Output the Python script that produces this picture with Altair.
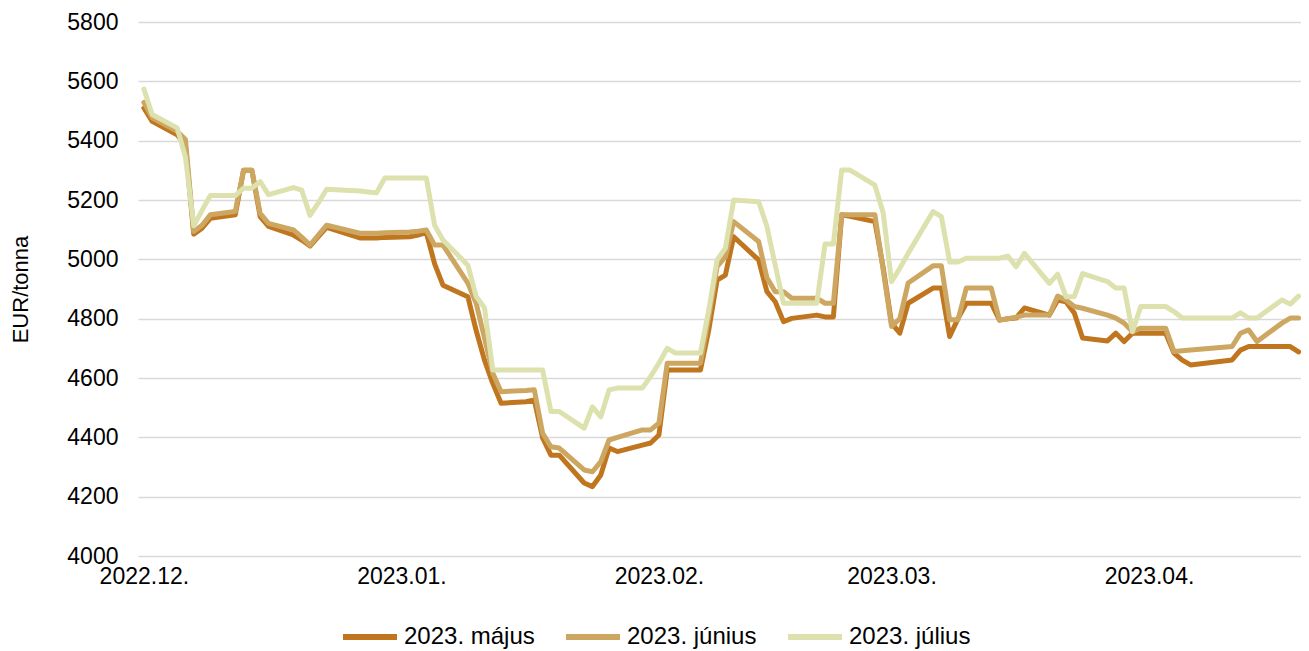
import altair as alt
import pandas as pd

dates = [
    "2022-12-01", "2022-12-02", "2022-12-05", "2022-12-06", "2022-12-07", "2022-12-08", "2022-12-09",
    "2022-12-12", "2022-12-13", "2022-12-14", "2022-12-15", "2022-12-16", "2022-12-19", "2022-12-20",
    "2022-12-21", "2022-12-22", "2022-12-23", "2022-12-27", "2022-12-28", "2022-12-29", "2022-12-30",
    "2023-01-02", "2023-01-03", "2023-01-04", "2023-01-05", "2023-01-06", "2023-01-09", "2023-01-10",
    "2023-01-11", "2023-01-12", "2023-01-13", "2023-01-16", "2023-01-17", "2023-01-18", "2023-01-19",
    "2023-01-20", "2023-01-23", "2023-01-24", "2023-01-25", "2023-01-26", "2023-01-27", "2023-01-30",
    "2023-01-31",
    "2023-02-01", "2023-02-02", "2023-02-03", "2023-02-06", "2023-02-07", "2023-02-08", "2023-02-09",
    "2023-02-10", "2023-02-13", "2023-02-14", "2023-02-15", "2023-02-16", "2023-02-17", "2023-02-20",
    "2023-02-21", "2023-02-22", "2023-02-23", "2023-02-24", "2023-02-27", "2023-02-28",
    "2023-03-01", "2023-03-02", "2023-03-03", "2023-03-06", "2023-03-07", "2023-03-08", "2023-03-09",
    "2023-03-10", "2023-03-13", "2023-03-14", "2023-03-15", "2023-03-16", "2023-03-17", "2023-03-20",
    "2023-03-21", "2023-03-22", "2023-03-23", "2023-03-24", "2023-03-27", "2023-03-28", "2023-03-29",
    "2023-03-30", "2023-03-31",
    "2023-04-03", "2023-04-04", "2023-04-05", "2023-04-06", "2023-04-11", "2023-04-12", "2023-04-13",
    "2023-04-14", "2023-04-17", "2023-04-18", "2023-04-19",
]

majus = [
    5510, 5465, 5420, 5385, 5085, 5105, 5138,
    5150, 5300, 5300, 5144, 5111, 5082, 5065,
    5045, 5077, 5108, 5072, 5072, 5072, 5074,
    5076, 5082, 5090, 4985, 4913, 4874, 4760,
    4660, 4582, 4515, 4520, 4526, 4398, 4340,
    4340, 4246, 4234, 4273, 4364, 4352, 4374,
    4381,
    4408, 4627, 4627, 4627, 4762, 4930, 4947,
    5076, 4998, 4891, 4857, 4790, 4801, 4812,
    4806, 4806, 5150, 5145, 5127, 4971,
    4785, 4751, 4852, 4903, 4903, 4740, 4800,
    4852, 4852, 4795, 4800, 4802, 4836, 4812,
    4863, 4857, 4819, 4735, 4725, 4751, 4723,
    4751, 4751,
    4751, 4684, 4660, 4644, 4661, 4694, 4706,
    4706, 4706, 4706, 4688,
]

junius = [
    5529, 5477, 5432, 5404, 5094, 5115, 5150,
    5161, 5300, 5300, 5155, 5121, 5099, 5075,
    5048, 5082, 5115, 5088, 5088, 5088, 5090,
    5092, 5095, 5099, 5048, 5048, 4920, 4852,
    4735, 4616, 4554, 4558, 4560, 4414, 4368,
    4364, 4290, 4284, 4318, 4391, 4400, 4425,
    4425,
    4448, 4650, 4650, 4650, 4806, 4975, 5009,
    5127, 5060, 4938, 4891, 4891, 4869, 4869,
    4852, 4852, 5150, 5150, 5150, 4964,
    4774, 4800, 4920, 4978, 4978, 4796, 4796,
    4903, 4903, 4795, 4800, 4805, 4812, 4812,
    4876, 4863, 4841, 4835, 4812, 4802, 4785,
    4756, 4768,
    4768, 4689, 4692, 4694, 4706, 4751, 4762,
    4723, 4785, 4802, 4802,
]

julius = [
    5574, 5488, 5443, 5345, 5113, 5165, 5215,
    5215, 5240, 5240, 5262, 5218, 5242, 5233,
    5148, 5190, 5236, 5230, 5227, 5224, 5274,
    5274, 5274, 5274, 5115, 5065, 4980, 4875,
    4837, 4627, 4627, 4627, 4627, 4627, 4487,
    4487, 4431, 4503, 4469, 4560, 4566, 4566,
    4605,
    4650, 4700, 4684, 4684, 4829, 4998, 5038,
    5200, 5194, 5111, 4980, 4852, 4852, 4852,
    5052, 5052, 5301, 5301, 5250, 5156,
    4925, 4970, 5020, 5161, 5144, 4991, 4991,
    5004, 5004, 5004, 5011, 4975, 5020, 4919,
    4950, 4874, 4874, 4952, 4925, 4903, 4903,
    4756, 4841,
    4841, 4824, 4802, 4802, 4802, 4820, 4802,
    4802, 4863, 4849, 4876,
]

series_names = ["2023. május", "2023. június", "2023. július"]
series_colors = ["#C0761F", "#CDA761", "#DDE1AE"]
y_ticks = [4000, 4200, 4400, 4600, 4800, 5000, 5200, 5400, 5600, 5800]
tick_months = [(2022, 12), (2023, 1), (2023, 2), (2023, 3), (2023, 4)]

rows = []
for order, (name, vals) in enumerate(zip(series_names, [majus, junius, julius])):
    for d, v in zip(dates, vals):
        rows.append({"date": d + "T00:00:00Z", "series": name, "value": v, "k": order})
df = pd.DataFrame(rows)

FONT = "Liberation Sans"

chart = (
    alt.Chart(df)
    .mark_line(strokeWidth=5, strokeJoin="round", strokeCap="round")
    .encode(
        x=alt.X(
            "date:T",
            title=None,
            scale=alt.Scale(
                type="utc",
                domain=[
                    alt.DateTime(year=2022, month=11, date=30, hours=7, utc=True),
                    alt.DateTime(year=2023, month=4, date=19, hours=7, utc=True),
                ],
            ),
            axis=alt.Axis(
                values=[alt.DateTime(year=y, month=m, date=1, utc=True) for y, m in tick_months],
                format="%Y.%m.",
                grid=False,
                domain=False,
                ticks=False,
                labelPadding=9,
                labelFont=FONT,
                labelFontSize=23,
                labelColor="#000000",
            ),
        ),
        y=alt.Y(
            "value:Q",
            title="EUR/tonna",
            scale=alt.Scale(domain=[4000, 5800], nice=False, zero=False),
            axis=alt.Axis(
                values=y_ticks,
                format="d",
                grid=True,
                gridColor="#D9D9D9",
                gridWidth=1.5,
                domain=False,
                ticks=False,
                labelPadding=20,
                labelFont=FONT,
                labelFontSize=23,
                labelColor="#000000",
                titleFont=FONT,
                titleFontSize=22,
                titleFontWeight="normal",
                titleColor="#000000",
                titlePadding=34,
            ),
        ),
        color=alt.Color(
            "series:N",
            scale=alt.Scale(domain=series_names, range=series_colors),
            sort=series_names,
            legend=alt.Legend(
                title=None,
                orient="none",
                direction="horizontal",
                legendX=202,
                legendY=585,
                symbolType="stroke",
                symbolSize=2916,
                symbolStrokeWidth=6,
                labelFont=FONT,
                labelFontSize=24,
                labelColor="#000000",
                labelOffset=4,
                columnPadding=19,
            ),
        ),
        order=alt.Order("k:Q"),
    )
    .properties(
        width=1163,
        height=534,
        padding={"left": 130, "top": 14, "right": 0, "bottom": 100},
        autosize=alt.AutoSizeParams(type="none"),
    )
    .configure_view(stroke=None)
)

chart.save("out.html", embed_options={"renderer": "svg", "actions": False})
